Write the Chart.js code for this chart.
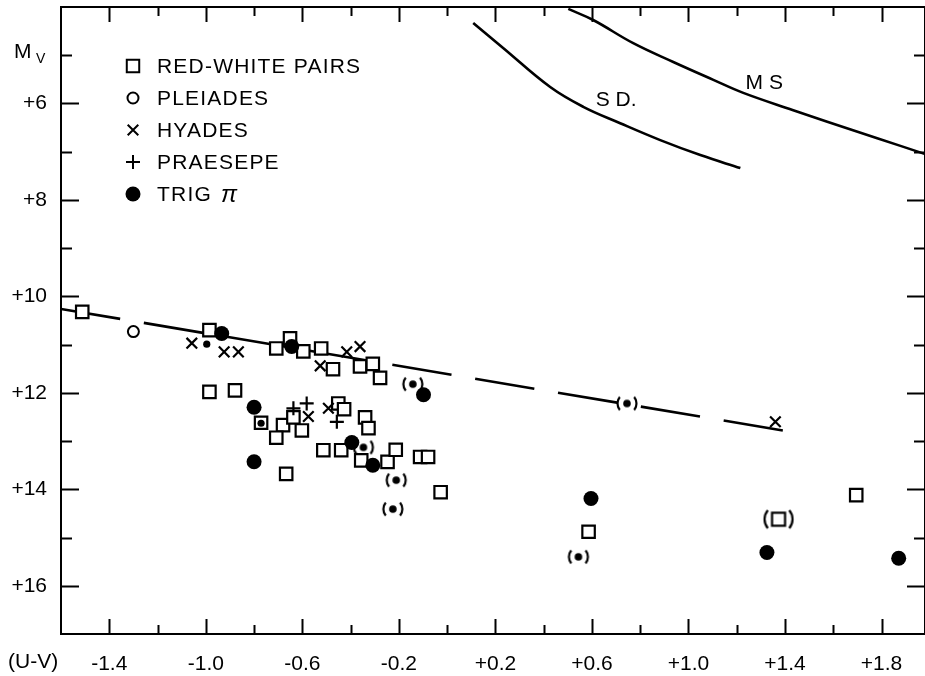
<!DOCTYPE html>
<html>
<head>
<meta charset="utf-8">
<script src="https://cdn.jsdelivr.net/npm/chart.js@4.4.0/dist/chart.umd.min.js"></script>
<style>
  html, body { margin: 0; padding: 0; background: #fff; overflow: hidden; }
  #wrap { position: relative; width: 925px; height: 676px; }
</style>
</head>
<body>
<div id="wrap"><canvas id="hr"></canvas></div>
<script>
// values: [U-V, Mv]
var redWhitePairs = [
  [-1.512, 10.32], [-0.985, 10.70], [-0.651, 10.87], [-0.708, 11.08], [-0.596, 11.14],
  [-0.522, 11.08], [-0.473, 11.51], [-0.361, 11.45], [-0.308, 11.40], [-0.278, 11.69],
  [-0.985, 11.98], [-0.879, 11.95], [-0.771, 12.62], [-0.680, 12.67], [-0.708, 12.93],
  [-0.637, 12.51], [-0.602, 12.78], [-0.451, 12.22], [-0.427, 12.34], [-0.340, 12.51],
  [-0.326, 12.73], [-0.513, 13.19], [-0.439, 13.19], [-0.356, 13.40], [-0.247, 13.43],
  [-0.213, 13.18], [-0.112, 13.33], [-0.079, 13.33], [-0.667, 13.68], [-0.027, 14.06],
  [0.586, 14.88], [1.695, 14.12]
];
var redWhiteUncertain = [[1.373, 14.62]];
var pleiades = [[-1.300, 10.73]];
var hyades = [
  [-1.058, 10.97], [-0.924, 11.15], [-0.865, 11.15], [-0.526, 11.44], [-0.416, 11.15],
  [-0.361, 11.04], [-0.575, 12.49], [-0.492, 12.32], [1.360, 12.60]
];
var praesepe = [[-0.637, 12.32], [-0.582, 12.22], [-0.457, 12.60]];
var trigPi = [
  [-0.934, 10.77], [-0.644, 11.04], [-0.800, 12.30], [-0.800, 13.43], [-0.395, 13.03],
  [-0.308, 13.50], [-0.098, 12.04], [0.596, 14.19], [1.325, 15.31], [1.871, 15.43]
];
var trigPiSmall = [[-0.996, 10.99], [-0.771, 12.63]];
var trigPiUncertain = [
  [-0.142, 11.82], [-0.347, 13.13], [-0.211, 13.81], [-0.225, 14.41], [0.745, 12.22], [0.544, 15.40]
];
var meanLine = [[-1.6, 10.26], [1.472, 12.85]];
var mainSequence = [
  [0.502, 4.04], [0.605, 4.27], [0.771, 4.75], [0.937, 5.14], [1.103, 5.51],
  [1.227, 5.78], [1.434, 6.14], [1.575, 6.38], [1.782, 6.72], [1.981, 7.05]
];
var subdwarfs = [
  [0.108, 4.33], [0.232, 4.85], [0.427, 5.66], [0.564, 6.07], [0.717, 6.41],
  [0.883, 6.76], [1.049, 7.07], [1.215, 7.34]
];
var curveLabels = [['M S', 1.314, 5.58], ['S D.', 0.70, 5.93]];

var xTicks = [-1.4, -1.0, -0.6, -0.2, 0.2, 0.6, 1.0, 1.4, 1.8];
var xTickLabels = ['-1.4', '-1.0', '-0.6', '-0.2', '+0.2', '+0.6', '+1.0', '+1.4', '+1.8'];
var xMinorTicks = [-1.2, -0.8, -0.4, 0.0, 0.4, 0.8, 1.2, 1.6];
var yTicks = [6, 8, 10, 12, 14, 16];
var yTickLabels = ['+6', '+8', '+10', '+12', '+14', '+16'];
var yMinorTicks = [5, 7, 9, 11, 13, 15];

var FONT = '"Liberation Sans", Arial, sans-serif';

function pts(list) {
  return list.map(function (p) { return {x: p[0], y: p[1]}; });
}

// "(•)" and "(□)" marks
function parenMark(kind) {
  var c = document.createElement('canvas');
  var w = kind === 'dot' ? 26 : 36, h = kind === 'dot' ? 18 : 24;
  c.width = w; c.height = h;
  var g = c.getContext('2d'), cx = w / 2, cy = h / 2;
  var r = kind === 'dot' ? 10 : 14, off = kind === 'dot' ? 9.5 : 14;
  g.strokeStyle = '#000'; g.lineWidth = 2.2;
  g.beginPath(); g.arc(cx - off + r, cy, r, Math.PI - 0.7, Math.PI + 0.7); g.stroke();
  g.beginPath(); g.arc(cx + off - r, cy, r, -0.7, 0.7); g.stroke();
  if (kind === 'dot') {
    g.fillStyle = '#000';
    g.beginPath(); g.arc(cx, cy, 3.8, 0, Math.PI * 2); g.fill();
  } else {
    g.fillStyle = '#fff'; g.lineWidth = 2.2;
    g.fillRect(cx - 6.5, cy - 6.5, 13, 13);
    g.strokeRect(cx - 6.5, cy - 6.5, 13, 13);
  }
  return c;
}

var legendRows = [
  {text: 'RED-WHITE PAIRS', style: 'rect', radius: 8.8, fill: '#fff', bw: 2.2},
  {text: 'PLEIADES', style: 'circle', radius: 5.5, fill: '#fff', bw: 2},
  {text: 'HYADES', style: 'crossRot', radius: 7.5, fill: '#000', bw: 2.2},
  {text: 'PRAESEPE', style: 'cross', radius: 7, fill: '#000', bw: 2.2},
  {text: 'TRIG', style: 'circle', radius: 7.5, fill: '#000', bw: 0, pi: true}
];

var decorations = {
  id: 'decorations',
  afterDraw: function (chart) {
    var ctx = chart.ctx, a = chart.chartArea;
    var xs = chart.scales.x, ys = chart.scales.y;
    ctx.save();
    ctx.strokeStyle = '#000';
    ctx.fillStyle = '#000';
    ctx.lineWidth = 2;
    ctx.strokeRect(a.left, a.top, a.right - a.left, a.bottom - a.top);

    ctx.beginPath();
    xTicks.concat(xMinorTicks).forEach(function (v) {
      var len = xTicks.indexOf(v) >= 0 ? 15 : 9;
      var px = Math.round(xs.getPixelForValue(v)) + 0.5;
      ctx.moveTo(px, a.bottom); ctx.lineTo(px, a.bottom - len);
      ctx.moveTo(px, a.top); ctx.lineTo(px, a.top + len);
    });
    yTicks.concat(yMinorTicks).forEach(function (v) {
      var len = yTicks.indexOf(v) >= 0 ? 18 : 11;
      var py = Math.round(ys.getPixelForValue(v)) + 0.5;
      ctx.moveTo(a.left, py); ctx.lineTo(a.left + len, py);
      ctx.moveTo(a.right, py); ctx.lineTo(a.right - len, py);
    });
    ctx.stroke();

    // axis names
    ctx.textBaseline = 'alphabetic';
    ctx.textAlign = 'left';
    ctx.font = '21px ' + FONT;
    ctx.fillText('M', 14, 58);
    ctx.font = '14px ' + FONT;
    ctx.fillText('V', 36, 63);
    ctx.font = '21px ' + FONT;
    ctx.textBaseline = 'middle';
    ctx.fillText('(U-V)', 8, 662);

    // curve names
    ctx.textAlign = 'center';
    curveLabels.forEach(function (l) {
      ctx.fillText(l[0], xs.getPixelForValue(l[1]), ys.getPixelForValue(l[2]));
    });

    // key
    ctx.textAlign = 'left';
    if ('letterSpacing' in ctx) ctx.letterSpacing = '1.2px';
    legendRows.forEach(function (row, i) {
      var y = 66 + i * 32;
      ctx.fillStyle = row.fill;
      ctx.strokeStyle = '#000';
      Chart.helpers.drawPoint(ctx, {pointStyle: row.style, radius: row.radius, borderWidth: row.bw, rotation: 0}, 133, y);
      ctx.fillStyle = '#000';
      ctx.font = '21px ' + FONT;
      ctx.fillText(row.text, 157, y + 1);
      if (row.pi) {
        var w = ctx.measureText(row.text + ' ').width;
        ctx.font = 'italic 24px ' + FONT;
        ctx.fillText('\u03C0', 157 + w + 2, y + 1);
      }
    });
    ctx.restore();
  }
};

var blackLine = function (data, extra) {
  var ds = {
    type: 'line', data: pts(data), borderColor: '#000', borderWidth: 2.6,
    pointRadius: 0, fill: false, tension: 0.4
  };
  for (var k in extra) ds[k] = extra[k];
  return ds;
};

function noPadding(axis) {
  axis.paddingLeft = 0;
  axis.paddingRight = 0;
  axis.paddingTop = 0;
  axis.paddingBottom = 0;
}

new Chart(document.getElementById('hr'), {
  type: 'scatter',
  data: {
    datasets: [
      {label: 'TRIG \u03C0 (small)', data: pts(trigPiSmall), pointStyle: 'circle', radius: 3.6,
        backgroundColor: '#000', borderWidth: 0},
      {label: 'TRIG \u03C0 (uncertain)', data: pts(trigPiUncertain), pointStyle: parenMark('dot')},
      {label: 'TRIG \u03C0', data: pts(trigPi), pointStyle: 'circle', radius: 7.5,
        backgroundColor: '#000', borderColor: '#000', borderWidth: 0},
      {label: 'HYADES', data: pts(hyades), pointStyle: 'crossRot', radius: 7.5,
        borderColor: '#000', borderWidth: 2.2},
      {label: 'PRAESEPE', data: pts(praesepe), pointStyle: 'cross', radius: 7,
        borderColor: '#000', borderWidth: 2.2},
      {label: 'PLEIADES', data: pts(pleiades), pointStyle: 'circle', radius: 5.5,
        backgroundColor: '#fff', borderColor: '#000', borderWidth: 2},
      {label: 'RED-WHITE PAIRS', data: pts(redWhitePairs), pointStyle: 'rect', radius: 8.8,
        backgroundColor: '#fff', borderColor: '#000', borderWidth: 2.2},
      {label: 'RED-WHITE PAIRS (uncertain)', data: pts(redWhiteUncertain), pointStyle: parenMark('box')},
      blackLine(meanLine, {label: 'mean', tension: 0, borderDash: [60, 24]}),
      blackLine(mainSequence, {label: 'MS'}),
      blackLine(subdwarfs, {label: 'SD'})
    ]
  },
  options: {
    responsive: true,
    maintainAspectRatio: false,
    animation: false,
    layout: {autoPadding: false, padding: {top: 7, right: 0, left: 0, bottom: 0}},
    plugins: {legend: {display: false}, tooltip: {enabled: false}},
    scales: {
      x: {
        type: 'linear', min: -1.6, max: 1.98,
        grid: {display: false, drawTicks: false}, border: {display: false},
        afterBuildTicks: function (axis) {
          axis.ticks = xTicks.map(function (v) { return {value: v}; });
        },
        afterFit: function (axis) { axis.height = 42; noPadding(axis); },
        ticks: {
          color: '#000', padding: 18, maxRotation: 0, autoSkip: false,
          font: {family: FONT, size: 21},
          callback: function (v) { return xTickLabels[xTicks.indexOf(v)]; }
        }
      },
      y: {
        type: 'linear', min: 4, max: 17, reverse: true,
        grid: {display: false, drawTicks: false}, border: {display: false},
        afterBuildTicks: function (axis) {
          axis.ticks = yTicks.map(function (v) { return {value: v}; });
        },
        afterFit: function (axis) { axis.width = 61; noPadding(axis); },
        ticks: {
          color: '#000', padding: 14, autoSkip: false,
          font: {family: FONT, size: 21},
          callback: function (v) { return yTickLabels[yTicks.indexOf(v)]; }
        }
      }
    }
  },
  plugins: [decorations]
});
</script>
</body>
</html>
